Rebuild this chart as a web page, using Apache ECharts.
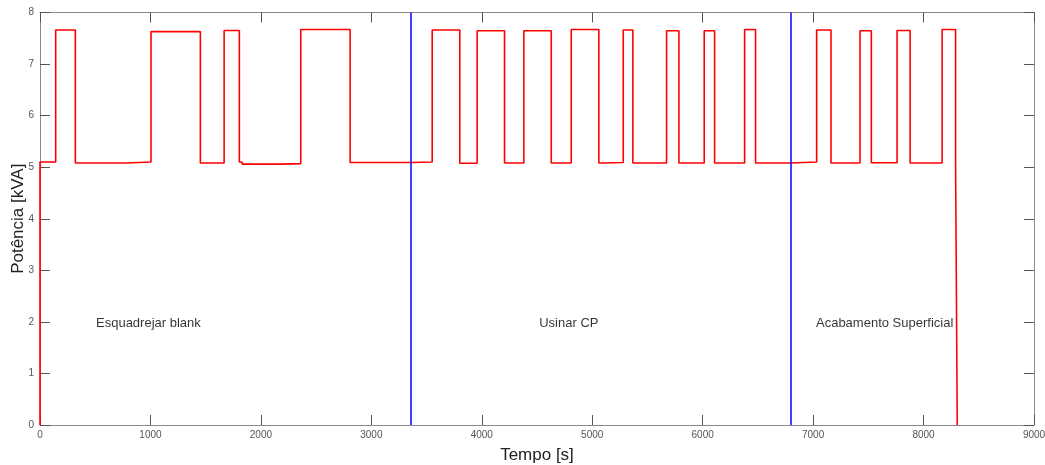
<!DOCTYPE html>
<html>
<head>
<meta charset="utf-8">
<script src="https://cdn.jsdelivr.net/npm/echarts@6/dist/echarts.min.js"></script>
<style>
html,body{margin:0;padding:0;background:#fff;}
#chart{width:1045px;height:465px;}
</style>
</head>
<body>
<div id="chart"></div>
<script>
// Step breakpoints: from time t the power is the value at the same index
const times = [0, 0, 142, 320, 785, 1005, 1452, 1667, 1805, 1830, 2174, 2361, 2808, 3356,
  3551, 3801, 3958, 4206, 4381, 4629, 4810, 5060, 5100, 5281, 5368, 5673, 5785, 6014, 6108, 6380, 6479, 6800,
  7032, 7162, 7425, 7527, 7760, 7878, 8168, 8290, 8305];
const power = [0, 5.1, 7.66, 5.08, 5.1, 7.63, 5.08, 7.65, 5.1, 5.06, 5.07, 7.67, 5.09, 5.1,
  7.66, 5.075, 7.645, 5.08, 7.645, 5.08, 7.67, 5.08, 5.09, 7.66, 5.08, 7.645, 5.08, 7.645, 5.08, 7.67, 5.08, 5.1,
  7.66, 5.08, 7.645, 5.085, 7.65, 5.08, 7.67, 5.08, 0];
const phaseBounds = [3355, 6800];
const phaseLabels = ['Esquadrejar blank', 'Usinar CP', 'Acabamento Superficial'];
const phaseLabelX = [507, 4520, 7026];
const phaseLabelY = 2;

const FONT = '"Liberation Sans", Arial, sans-serif';
const lineData = times.map((t, i) => [t, power[i]]);

const axisCommon = {
  axisLine: {show: true, onZero: false, lineStyle: {color: '#8a8a8a', width: 1}},
  axisTick: {show: true, inside: true, length: 10, lineStyle: {color: '#555'}},
  splitLine: {show: false}
};

const chart = echarts.init(document.getElementById('chart'), null, {renderer: 'canvas'});
chart.setOption({
  animation: false,
  backgroundColor: '#fff',
  grid: {left: 40, right: 11, top: 12.5, bottom: 40, containLabel: false, outerBoundsMode: 'none'},
  xAxis: [
    Object.assign({
      type: 'value', min: 0, max: 9000, interval: 1000, position: 'bottom',
      name: 'Tempo [s]', nameLocation: 'middle', nameGap: 22, nameMoveOverlap: false,
      nameTextStyle: {fontFamily: FONT, fontSize: 17, color: '#222'},
      axisLabel: {fontFamily: FONT, fontSize: 10, color: '#555', margin: 5, formatter: v => String(v)}
    }, axisCommon),
    Object.assign({
      type: 'value', min: 0, max: 9000, interval: 1000, position: 'top',
      axisLabel: {show: false}
    }, axisCommon)
  ],
  yAxis: [
    Object.assign({
      type: 'value', min: 0, max: 8, interval: 1, position: 'left',
      name: 'Potência [kVA]', nameLocation: 'middle', nameGap: 13, nameMoveOverlap: false,
      nameTextStyle: {fontFamily: FONT, fontSize: 17, color: '#222'},
      axisLabel: {fontFamily: FONT, fontSize: 10, color: '#555', margin: 6}
    }, axisCommon),
    Object.assign({
      type: 'value', min: 0, max: 8, interval: 1, position: 'right',
      axisLabel: {show: false}
    }, axisCommon)
  ],
  series: [
    {
      type: 'line',
      data: lineData,
      step: 'end',
      showSymbol: false,
      symbol: 'none',
      lineStyle: {color: '#ff0000', width: 1.6},
      z: 3,
      markLine: {
        silent: true,
        symbol: ['none', 'none'],
        label: {show: false},
        lineStyle: {color: '#0000ff', width: 1.5, type: 'solid'},
        data: phaseBounds.map(x => ({xAxis: x}))
      }
    },
    {
      type: 'scatter',
      symbolSize: 0,
      data: phaseLabels.map((name, i) => ({value: [phaseLabelX[i], phaseLabelY], name: name})),
      label: {
        show: true,
        position: 'right',
        distance: 0,
        offset: [0, 2],
        formatter: p => p.name,
        fontFamily: FONT,
        fontSize: 13,
        color: '#000'
      },
      silent: true
    }
  ]
});
</script>
</body>
</html>
